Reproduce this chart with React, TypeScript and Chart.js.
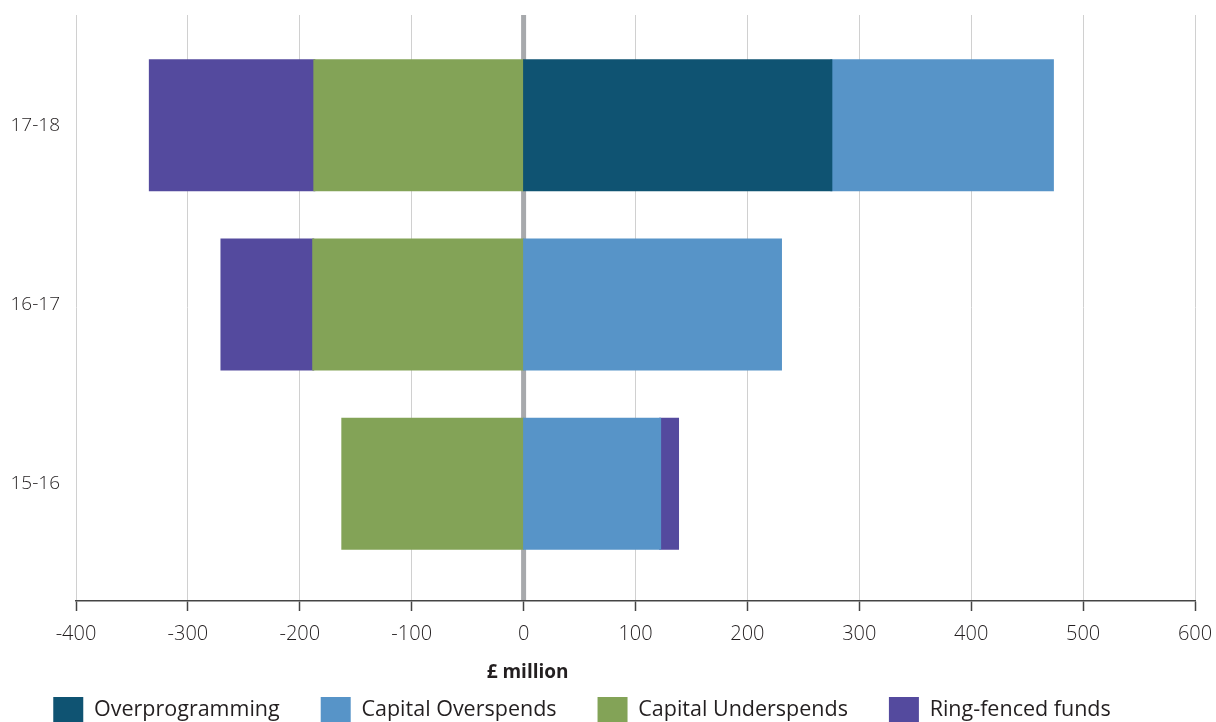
import React, { useEffect, useRef } from 'react';
import { Chart, registerables } from 'chart.js';

Chart.register(...registerables);

const categories = ['15-16', '16-17', '17-18'];
const overprogramming = [0, 0, 275];
const capitalOverspends = [122, 230, 198];
const capitalUnderspends = [-162, -188, -187];
const ringFencedFunds = [16, -82, -147];

const seriesNames = ['Overprogramming', 'Capital Overspends', 'Capital Underspends', 'Ring-fenced funds'];
const seriesColors = ['#0f5372', '#5794c8', '#83a357', '#544a9e'];

const xMin = -400;
const xMax = 600;
const xStep = 100;
const xTitle = '£ million';

const family = "'Open Sans', sans-serif";
const textColor = '#231f20';

const zeroLinePlugin = {
  id: 'zeroLine',
  beforeDatasetsDraw(chart: any) {
    const xs = chart.scales.x;
    const area = chart.chartArea;
    const ctx = chart.ctx;
    const px = xs.getPixelForValue(0);
    ctx.save();
    ctx.fillStyle = '#a7a9ac';
    ctx.fillRect(px - 2.5, area.top, 5, area.bottom - area.top - 1);
    ctx.restore();
  },
  afterDraw(chart: any) {
    const xs = chart.scales.x;
    const ctx = chart.ctx;
    ctx.save();
    ctx.font = `bold 19px ${family}`;
    ctx.fillStyle = textColor;
    ctx.textAlign = 'center';
    ctx.textBaseline = 'middle';
    ctx.fillText(xTitle, xs.getPixelForValue(0) + 4, xs.bottom + 17);
    ctx.restore();
  },
};

export default function App() {
  const ref = useRef<HTMLCanvasElement>(null);

  useEffect(() => {
    document.body.style.margin = '0';
    const allSeries = [overprogramming, capitalOverspends, capitalUnderspends, ringFencedFunds];
    const chart = new Chart(ref.current as HTMLCanvasElement, {
      type: 'bar',
      data: {
        datasets: allSeries.map((vals, si) => ({
          label: seriesNames[si],
          data: vals.map((v, i) => ({ x: v, y: i })),
          backgroundColor: seriesColors[si],
          borderWidth: 0,
          barThickness: 130,
          grouped: false,
          inflateAmount: (c: any) => (c.raw && c.raw.x === 0 ? 0 : 1),
        })),
      },
      plugins: [zeroLinePlugin],
      options: {
        indexAxis: 'y',
        responsive: false,
        animation: false,
        layout: { padding: { top: 15, right: 21, bottom: -11, left: -31 } },
        plugins: {
          legend: {
            position: 'bottom',
            labels: {
              boxWidth: 30,
              boxHeight: 26,
              padding: 41,
              color: textColor,
              font: { family, size: 21.5 },
            },
          },
          tooltip: { enabled: false },
        },
        scales: {
          x: {
            type: 'linear',
            min: xMin,
            max: xMax,
            stacked: true,
            ticks: { stepSize: xStep, color: textColor, font: { family, size: 20, weight: 300 }, padding: 11 },
            grid: {
              z: -1,
              color: (c: any) => (c.tick && c.tick.value === 0 ? 'rgba(0,0,0,0)' : '#d0d0d0'),
              lineWidth: 1,
              tickColor: '#444',
              tickWidth: 1.5,
              tickLength: 10,
            },
            border: { display: true, color: '#444', width: 1.5 },
            title: { display: false },
            afterFit: (s: any) => {
              s.height = 55;
              s.paddingLeft = 0;
              s.paddingRight = 0;
            },
          },
          y: {
            type: 'linear',
            offset: false,
            min: -0.654,
            max: 2.615,
            afterBuildTicks: (s: any) => {
              s.ticks = categories.map((_, i) => ({ value: i }));
            },
            ticks: {
              color: textColor,
              font: { family, size: 19, weight: 300 },
              padding: 16,
              callback: (v: any) => categories[v] ?? '',
            },
            grid: { display: false, drawTicks: false, offset: false },
            border: { display: false },
            afterFit: (s: any) => {
              s.width = 107;
              s.paddingTop = 0;
              s.paddingBottom = 0;
            },
          },
        },
      },
    } as any);
    return () => chart.destroy();
  }, []);

  return (
    <div style={{ position: 'fixed', left: 0, top: 0, width: 1216, height: 722 }}>
      <canvas ref={ref} width={1216} height={722} />
    </div>
  );
}
